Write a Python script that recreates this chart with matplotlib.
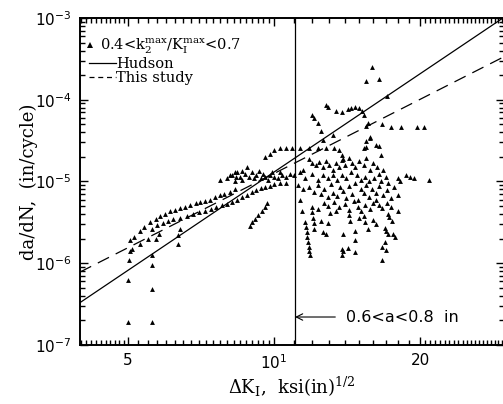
import matplotlib
matplotlib.use("Agg")
import matplotlib.pyplot as plt
from matplotlib.font_manager import FontProperties
from matplotlib.lines import Line2D
from matplotlib.ticker import FixedLocator, FixedFormatter, NullFormatter, LogLocator
import numpy as np

low_dk = [5.0, 5.6, 5.0, 5.6, 5.6, 5.03, 5.6, 5.05]
low_rate = [1.9e-7, 1.9e-7, 6.3e-7, 4.9e-7, 9.5e-7, 1.1e-6, 1.25e-6, 1.4e-6]

upper_dk = [5.05, 5.15, 5.29, 5.4, 5.55, 5.7, 5.82, 5.95, 6.1, 6.25, 6.4,
            6.55, 6.71, 6.9, 7.04, 7.2, 7.38, 7.55, 7.74, 7.9, 8.12, 8.3]
upper_rate = [1.9e-6, 2.1e-6, 2.5e-6, 2.8e-6, 3.2e-6, 3.5e-6, 3.8e-6, 4.0e-6,
              4.3e-6, 4.5e-6, 4.7e-6, 4.9e-6, 5.2e-6, 5.4e-6, 5.6e-6, 5.8e-6,
              6.0e-6, 6.4e-6, 6.8e-6, 7.1e-6, 7.5e-6, 8.0e-6]

middle_dk = [5.1, 5.3, 5.5, 5.6, 5.7, 5.75, 5.8, 5.9, 6.05, 6.2, 6.35, 6.35,
             6.4, 6.4, 6.6, 6.8, 7.0, 7.2, 7.4, 7.6, 7.8, 8.0, 8.2, 8.4, 8.6,
             8.8, 9.0, 9.2, 9.4, 9.6, 9.8, 10.0, 10.3, 10.6]
middle_rate = [1.5e-6, 1.7e-6, 2.0e-6, 2.6e-6, 2.0e-6, 2.9e-6, 2.3e-6, 3.1e-6,
               3.3e-6, 3.5e-6, 1.7e-6, 2.2e-6, 2.6e-6, 3.6e-6, 3.8e-6, 4.0e-6,
               4.2e-6, 4.4e-6, 4.6e-6, 4.9e-6, 5.1e-6, 5.3e-6, 5.6e-6, 6.0e-6,
               6.4e-6, 6.9e-6, 7.4e-6, 7.9e-6, 8.3e-6, 8.6e-6, 8.9e-6, 9.2e-6,
               9.5e-6, 9.7e-6]

branch_dk = [8.92, 9.0, 9.15, 9.28, 9.45, 9.6, 9.68]
branch_rate = [2.86e-6, 3.2e-6, 3.5e-6, 3.9e-6, 4.4e-6, 4.9e-6, 5.4e-6]

cluster_dk = [7.74, 8.0, 8.1, 8.2, 8.3, 8.3, 8.35, 8.4, 8.5, 8.6, 8.6, 8.7,
              8.8, 8.9, 9.0, 9.1, 9.2, 9.3, 9.4, 9.5, 9.6, 9.7, 9.8, 9.9,
              10.0, 10.2, 10.3, 10.4, 10.6, 10.8, 11.0]
cluster_rate = [1.04e-5, 1.1e-5, 1.2e-5, 1.2e-5, 1.0e-5, 1.3e-5, 1.15e-5,
                1.3e-5, 1.15e-5, 1.05e-5, 1.35e-5, 1.25e-5, 1.5e-5, 1.15e-5,
                1.3e-5, 1.1e-5, 1.2e-5, 1.35e-5, 1.1e-5, 1.25e-5, 1.15e-5,
                1.05e-5, 1.2e-5, 1.3e-5, 1.15e-5, 1.1e-5, 1.3e-5, 1.2e-5,
                1.15e-5, 1.25e-5, 1.2e-5]

arc_dk = [9.6, 9.8, 10.0, 10.3, 10.6, 10.9, 11.3, 11.8, 12.3, 12.8, 13.3,
          13.6, 13.8, 13.9]
arc_rate = [2.0e-5, 2.2e-5, 2.4e-5, 2.55e-5, 2.6e-5, 2.6e-5, 2.6e-5, 2.6e-5,
            2.6e-5, 2.6e-5, 2.55e-5, 2.4e-5, 2.1e-5, 1.9e-5]

right_dk = [
    11.8, 12.0, 12.2, 12.4, 12.6, 12.8, 13.0, 13.2, 13.4, 13.6, 13.8, 14.0,
    14.3, 14.5, 14.7, 15.0, 15.3, 15.5, 15.8, 16.0, 16.3, 16.5, 16.8, 17.0,
    11.5, 11.3, 11.6, 12.0, 12.3, 12.6, 12.9, 13.2, 13.5, 13.8, 14.1, 14.4,
    14.8, 15.1, 15.4, 15.7, 16.1, 16.6, 17.2,
    11.2, 11.5, 11.8, 12.1, 12.3, 12.5, 12.7, 12.9, 13.1, 13.2, 13.5, 13.7,
    13.9, 14.1, 14.3, 14.5, 14.7, 14.9, 15.1, 15.3, 15.5, 15.7, 15.9, 16.2,
    16.5, 16.8, 17.1, 17.4, 17.7,
    11.6, 11.65, 11.7, 11.7, 11.75, 11.8, 11.8, 11.85,
    12.0, 12.0, 12.05, 12.1, 12.1,
    11.3, 11.4, 12.6, 12.8, 12.9, 12.5, 13.05,
    14.3, 14.3, 14.35, 13.9, 14.7, 14.7, 13.8, 13.9, 14.2, 13.8, 14.7,
    15.3, 15.4, 15.6, 16.0, 16.2, 16.2, 16.5, 16.7,
    16.9, 17.0, 17.2, 16.7, 16.9, 17.0, 16.7,
    17.3, 17.5, 17.6, 17.8, 18.0, 18.0, 18.2,
    12.3, 12.7, 12.9, 13.3, 13.6, 13.4, 14.0, 14.6, 14.9, 15.1, 15.4, 15.8,
    16.0, 17.1, 17.4, 17.2, 15.0,
    18.0, 18.7, 19.1, 19.4, 20.9,
]
right_rate = [
    1.9e-5, 1.7e-5, 1.6e-5, 1.75e-5, 1.5e-5, 1.8e-5, 1.6e-5, 1.4e-5, 1.7e-5,
    1.5e-5, 1.85e-5, 1.6e-5, 1.95e-5, 1.7e-5, 1.5e-5, 1.8e-5, 1.6e-5, 1.95e-5,
    1.4e-5, 1.7e-5, 1.5e-5, 1.25e-5, 1.4e-5, 1.15e-5,
    1.4e-5, 1.3e-5, 1.1e-5, 1.25e-5, 1.05e-5, 1.2e-5, 1.1e-5, 1.2e-5, 1.05e-5,
    1.2e-5, 1.1e-5, 1.3e-5, 1.2e-5, 1.05e-5, 1.15e-5, 1.0e-5, 1.1e-5, 1.0e-5,
    9.5e-6,
    9.0e-6, 8.0e-6, 8.5e-6, 7.5e-6, 9.0e-6, 7.0e-6, 8.2e-6, 6.5e-6, 9.2e-6,
    7.3e-6, 6.6e-6, 8.5e-6, 7.7e-6, 6.2e-6, 8.8e-6, 7.0e-6, 9.5e-6, 6.0e-6,
    8.0e-6, 7.2e-6, 9.0e-6, 6.5e-6, 8.2e-6, 7.3e-6, 8.8e-6, 6.8e-6, 7.8e-6,
    6.2e-6, 8.5e-6,
    3.2e-6, 2.8e-6, 2.4e-6, 2.1e-6, 1.8e-6, 1.6e-6, 1.4e-6, 1.25e-6,
    4.9e-6, 4.2e-6, 3.6e-6, 3.1e-6, 2.6e-6,
    5.9e-6, 4.4e-6, 2.4e-6, 2.3e-6, 3.1e-6, 3.3e-6, 4.1e-6,
    4.5e-6, 3.9e-6, 3.3e-6, 2.3e-6, 2.5e-6, 1.9e-6, 1.5e-6, 1.4e-6, 1.55e-6,
    1.25e-6, 1.37e-6,
    3.8e-6, 3.2e-6, 2.6e-6, 3.4e-6, 3.0e-6, 5.9e-6, 5.2e-6, 4.8e-6,
    2.7e-6, 2.5e-6, 2.3e-6, 1.6e-6, 1.8e-6, 1.45e-6, 1.1e-6,
    3.7e-6, 3.3e-6, 2.3e-6, 2.1e-6, 4.3e-6, 6.8e-6, 1.0e-5,
    4.6e-6, 5.5e-6, 5.0e-6, 5.6e-6, 4.9e-6, 4.3e-6, 5.3e-6, 5.8e-6, 4.9e-6,
    4.3e-6, 5.1e-6, 4.6e-6, 5.4e-6, 5.5e-6, 4.9e-6, 4.0e-6, 3.6e-6,
    1.1e-5, 1.2e-5, 1.15e-5, 1.1e-5, 1.05e-5,
]

high_dk = [15.9, 15.5, 16.5, 17.1, 12.8, 12.9, 13.4, 13.8, 14.2, 14.4, 14.7,
           15.0, 15.2, 15.3, 12.0, 12.1, 12.3, 15.6, 17.4, 18.3, 19.7, 20.4,
           16.7, 15.5, 12.5, 12.6, 13.2, 15.8, 16.2, 16.5, 15.3, 16.6, 15.5,
           15.8, 15.5]
high_rate = [2.5e-4, 1.7e-4, 1.8e-4, 1.1e-4, 8.6e-5, 8.2e-5, 7.2e-5, 7.0e-5,
             7.6e-5, 7.9e-5, 8.1e-5, 7.9e-5, 7.2e-5, 6.5e-5, 6.5e-5, 6.0e-5,
             5.2e-5, 5.2e-5, 4.6e-5, 4.6e-5, 4.6e-5, 4.6e-5, 5.1e-5, 4.8e-5,
             4.1e-5, 3.2e-5, 3.7e-5, 3.4e-5, 2.8e-5, 2.75e-5, 2.6e-5, 2.1e-5,
             3.1e-5, 3.5e-5, 2.65e-5]

# fitted power laws (end points)
hudson_dk = [3.98, 29.8]
hudson_rate = [3.3e-7, 1.02e-3]
study_dk = [3.98, 29.8]
study_rate = [7.8e-7, 3.36e-4]

crack_line_dk = 11.05

plt.rcParams["font.family"] = "DejaVu Sans"
serif = FontProperties(family="DejaVu Serif", size=13, math_fontfamily="dejavuserif")
serif_leg = FontProperties(family="DejaVu Serif", size=10.5, math_fontfamily="dejavuserif")

fig = plt.figure(figsize=(5.03, 4.04), dpi=100)
ax = fig.add_axes([80 / 503, 1 - 345 / 404, 424 / 503, 327 / 404])

dk = low_dk + upper_dk + middle_dk + branch_dk + cluster_dk + arc_dk + right_dk + high_dk
rate = (low_rate + upper_rate + middle_rate + branch_rate + cluster_rate
        + arc_rate + right_rate + high_rate)
ax.plot(dk, rate, "^", color="black", ms=3.5, mew=0, ls="none")
ax.plot(hudson_dk, hudson_rate, "-", color="black", lw=0.9)
ax.plot(study_dk, study_rate, color="black", lw=0.9, dashes=(10, 6))
ax.axvline(crack_line_dk, color="black", lw=0.9)

ax.set_xscale("log")
ax.set_yscale("log")
ax.set_xlim(3.98, 29.8)
ax.set_ylim(1e-7, 1e-3)

ax.xaxis.set_major_locator(FixedLocator([5, 10, 20]))
ax.xaxis.set_major_formatter(FixedFormatter(["5", r"$10^1$", "20"]))
minor = list(np.arange(4.0, 5.0, 0.1)) + list(np.arange(5.25, 10, 0.25)) \
    + list(range(11, 20)) + list(np.arange(20.5, 30, 0.5))
ax.xaxis.set_minor_locator(FixedLocator(minor))
ax.xaxis.set_minor_formatter(NullFormatter())
ax.yaxis.set_minor_locator(LogLocator(base=10, subs=np.arange(2, 10), numticks=20))
ax.yaxis.set_minor_formatter(NullFormatter())

ax.tick_params(which="both", direction="in", top=True, right=True,
               labelsize=11, width=1.0, color="black")
ax.tick_params(which="major", length=6, pad=6)
ax.tick_params(which="minor", length=3.5)
for s in ax.spines.values():
    s.set_linewidth(1.4)

ax.set_xlabel(r"$\Delta$K$_{\rm I}$,  ksi(in)$^{1/2}$", fontproperties=serif, labelpad=2)
ax.set_ylabel("da/dN,  (in/cycle)", fontproperties=serif)
ax.yaxis.set_label_coords(-0.10, 0.5)

ax.annotate("0.6<a<0.8  in", xy=(crack_line_dk, 2.2e-7), xytext=(14.1, 2.2e-7),
            ha="left", va="center", fontsize=11.5,
            arrowprops=dict(arrowstyle="->", lw=0.8, color="black",
                            shrinkA=6, shrinkB=0))

h1 = Line2D([], [], marker="^", color="black", ls="none", ms=4, mew=0)
leg1 = ax.legend([h1], [r"0.4<k$_2^{\rm max}$/K$_{\rm I}^{\rm max}$<0.7"],
                 loc="upper left", bbox_to_anchor=(0.0, 0.955), frameon=False,
                 prop=serif_leg, handlelength=0.8, handletextpad=0.3,
                 borderpad=0.1, borderaxespad=0.2)
ax.add_artist(leg1)
h2 = Line2D([], [], color="black", lw=0.9)
h3 = Line2D([], [], color="black", lw=0.9, dashes=(4, 3))
ax.legend([h2, h3], ["Hudson", "This study"], loc="upper left",
          bbox_to_anchor=(0.012, 0.895), frameon=False, prop=serif_leg,
          handlelength=1.8, handletextpad=0.05, labelspacing=0.05,
          borderpad=0.1, borderaxespad=0.2)

fig.savefig("out.png", dpi=100)
